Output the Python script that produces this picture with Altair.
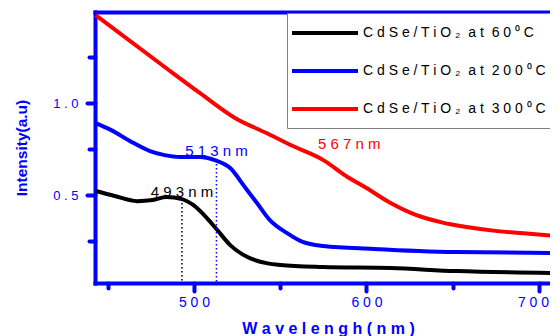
import altair as alt
import pandas as pd

# ---- data ----
GAP = "\u00a0\u00a0"
series_names = [
    "C d S e / T i O ₂" + GAP + "a t" + GAP + "6 0 ⁰ C",
    "C d S e / T i O ₂" + GAP + "a t" + GAP + "2 0 0 ⁰ C",
    "C d S e / T i O ₂" + GAP + "a t" + GAP + "3 0 0 ⁰ C",
]
series_colors = ["#000000", "#0000FF", "#FF0000"]

nm_60 = [443, 454, 467, 476, 484, 493, 499.5, 507.5, 513.5, 521, 531, 542, 550, 575, 614, 652, 711]
val_60 = [0.522, 0.495, 0.467, 0.473, 0.489, 0.478, 0.446, 0.375, 0.310, 0.228, 0.163, 0.130, 0.120, 0.109, 0.103, 0.087, 0.076]

nm_200 = [443, 452, 463, 474.5, 483, 492, 503.5, 512, 521, 529.5, 536.5, 544, 554, 563, 575, 604, 652, 711]
val_200 = [0.891, 0.853, 0.793, 0.739, 0.717, 0.707, 0.707, 0.690, 0.647, 0.543, 0.457, 0.364, 0.293, 0.245, 0.223, 0.207, 0.190, 0.185]

nm_300 = [443, 483, 503.5, 524, 542, 556, 575, 589, 600, 614, 629, 643, 658, 676, 691, 711]
val_300 = [1.478, 1.196, 1.054, 0.918, 0.837, 0.772, 0.690, 0.598, 0.538, 0.457, 0.391, 0.353, 0.326, 0.304, 0.293, 0.277]

annot_text = ["4 9 3 n m", "5 1 3 n m", "5 6 7 n m"]
annot_nm = [493, 513, 590]
annot_val = [0.516, 0.739, 0.78]

peak_nm = [493, 513]
peak_val = [0.478, 0.69]

x_domain = [442.6, 706.4]
y_domain = [0.022, 1.495]
x_ticks = [450, 500, 550, 600, 650, 700]
y_ticks = [0.25, 0.5, 0.75, 1.0, 1.25]

# ---- tables ----
rows = []
for name, xs, ys in zip(series_names, [nm_60, nm_200, nm_300], [val_60, val_200, val_300]):
    for i, (x, y) in enumerate(zip(xs, ys)):
        rows.append({"series": name, "nm": x, "v": y, "order": i})
lines_df = pd.DataFrame(rows)

annot_df = pd.DataFrame({"series": series_names, "nm": annot_nm, "v": annot_val, "text": annot_text})
peak_df = pd.DataFrame({"series": series_names[:2], "nm": peak_nm, "top": peak_val,
                        "bottom": [y_domain[0]] * 2})

BLUE = "#0000FF"
FONT = "Liberation Sans"

xscale = alt.Scale(domain=x_domain, nice=False, zero=False)
yscale = alt.Scale(domain=y_domain, nice=False, zero=False)
cscale = alt.Scale(domain=series_names, range=series_colors)

color = alt.Color(
    "series:N",
    scale=cscale,
    legend=alt.Legend(
        orient="none", legendX=192, legendY=1, title=None,
        symbolType="M-4.714,0H4.714", symbolSize=196, symbolStrokeWidth=4,
        symbolOffset=18, labelOffset=29,
        labelFontSize=14, labelFont=FONT, labelColor="black", labelLimit=0,
        strokeColor="#808080", fillColor="white",
        padding=11, rowPadding=21,
    ),
)

x_bottom = alt.Axis(
    values=x_ticks,
    labelExpr="datum.value % 100 == 0 ? join(split(datum.label, ''), ' ') : ''",
    tickSize={"condition": {"test": "datum.value % 100 == 0", "value": 8}, "value": 5},
    labelOffset={"condition": {"test": "datum.value == 700", "value": -6}, "value": 0},
    tickWidth=4, tickCap="round", tickColor=BLUE,
    domainColor=BLUE, domainWidth=4, domainCap="square",
    labelColor=BLUE, labelFont=FONT, labelFontSize=14, labelPadding=4,
    title="W a v e l e n g h ( n m )", titleColor=BLUE, titleFont=FONT,
    titleFontSize=16, titleFontWeight="bold", titleX=233, titleY=50,
    titleBaseline="alphabetic", titleAnchor="middle", grid=False,
)
x_top = alt.Axis(orient="top", ticks=False, labels=False, domainColor=BLUE,
                 domainWidth=4, domainCap="square", title=None, grid=False)

y_left = alt.Axis(
    values=y_ticks,
    labelExpr="(datum.value == 0.5 || datum.value == 1) ? join(split(format(datum.value, '.1f'), ''), ' ') : ''",
    tickSize={"condition": {"test": "datum.value == 0.5 || datum.value == 1", "value": 8}, "value": 6},
    tickWidth=4, tickCap="round", tickColor=BLUE,
    domainColor=BLUE, domainWidth=4, domainCap="square",
    labelColor=BLUE, labelFont=FONT, labelFontSize=13, labelPadding=9,
    title="Intensity(a.u)", titleColor=BLUE, titleFont=FONT, titleFontSize=15.5,
    titleFontWeight="bold", titleAngle=270, titleX=-74, titleY=135.5,
    titleBaseline="middle", titleAlign="center", grid=False,
)

lines = alt.Chart(lines_df).mark_line(strokeWidth=4, interpolate="monotone").encode(
    x=alt.X("nm:Q", scale=xscale, axis=x_bottom),
    y=alt.Y("v:Q", scale=yscale, axis=y_left),
    color=color,
    order="order:Q",
)

rules = alt.Chart(peak_df).mark_rule(strokeWidth=1.5, strokeDash=[1.5, 2.5]).encode(
    x=alt.X("nm:Q", scale=xscale, axis=x_top),
    y=alt.Y("top:Q", scale=yscale),
    y2="bottom:Q",
    color=alt.Color("series:N", scale=cscale, legend=None),
)

texts = alt.Chart(annot_df).mark_text(font=FONT, fontSize=15, baseline="middle", align="center").encode(
    x=alt.X("nm:Q", scale=xscale, axis=None),
    y=alt.Y("v:Q", scale=yscale),
    text="text:N",
    color=alt.Color("series:N", scale=cscale, legend=None),
)

chart = alt.layer(lines, rules, texts).resolve_axis(x="independent").properties(
    width=455, height=271,
    autosize=alt.AutoSizeParams(type="none"),
    padding={"left": 87, "top": 4, "right": 0, "bottom": 53},
).configure_view(stroke=None).configure(background="white")

chart.save("out.html", embed_options={"renderer": "svg", "actions": False})
